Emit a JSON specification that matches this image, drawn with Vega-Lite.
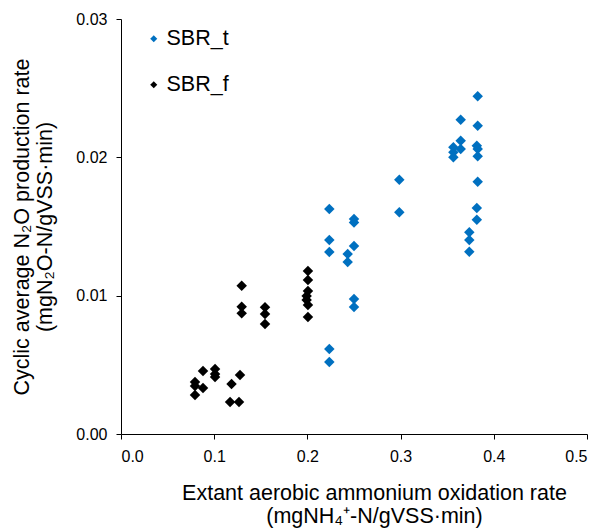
{
  "$schema": "https://vega.github.io/schema/vega-lite/v6.json",
  "width": 466,
  "height": 415,
  "autosize": "none",
  "padding": {"left": 121, "top": 19, "right": 13, "bottom": 94},
  "background": "white",
  "config": {
    "view": {"stroke": null},
    "font": "Liberation Sans",
    "axis": {"grid": false, "domainColor": "#000", "tickColor": "#000", "labelColor": "#000", "titleColor": "#000", "labelFontSize": 16, "titleFontSize": 21.5, "titleFontWeight": "normal", "tickSize": 5, "labelFont": "Liberation Sans", "titleFont": "Liberation Sans"}
  },
  "data": {
    "values": [
      {"rate": 0.0794, "n2o": 0.00376, "reactor": "SBR_f"},
      {"rate": 0.0794, "n2o": 0.00347, "reactor": "SBR_f"},
      {"rate": 0.0794, "n2o": 0.00282, "reactor": "SBR_f"},
      {"rate": 0.088, "n2o": 0.00455, "reactor": "SBR_f"},
      {"rate": 0.088, "n2o": 0.00333, "reactor": "SBR_f"},
      {"rate": 0.1009, "n2o": 0.0047, "reactor": "SBR_f"},
      {"rate": 0.1009, "n2o": 0.00434, "reactor": "SBR_f"},
      {"rate": 0.1009, "n2o": 0.00412, "reactor": "SBR_f"},
      {"rate": 0.1186, "n2o": 0.00361, "reactor": "SBR_f"},
      {"rate": 0.1277, "n2o": 0.00427, "reactor": "SBR_f"},
      {"rate": 0.117, "n2o": 0.00231, "reactor": "SBR_f"},
      {"rate": 0.1266, "n2o": 0.00231, "reactor": "SBR_f"},
      {"rate": 0.1295, "n2o": 0.01072, "reactor": "SBR_f"},
      {"rate": 0.1295, "n2o": 0.0092, "reactor": "SBR_f"},
      {"rate": 0.1295, "n2o": 0.00872, "reactor": "SBR_f"},
      {"rate": 0.1545, "n2o": 0.00916, "reactor": "SBR_f"},
      {"rate": 0.1545, "n2o": 0.00868, "reactor": "SBR_f"},
      {"rate": 0.1545, "n2o": 0.00795, "reactor": "SBR_f"},
      {"rate": 0.2006, "n2o": 0.01178, "reactor": "SBR_f"},
      {"rate": 0.2006, "n2o": 0.01113, "reactor": "SBR_f"},
      {"rate": 0.2006, "n2o": 0.01034, "reactor": "SBR_f"},
      {"rate": 0.1992, "n2o": 0.00998, "reactor": "SBR_f"},
      {"rate": 0.1992, "n2o": 0.00969, "reactor": "SBR_f"},
      {"rate": 0.2006, "n2o": 0.00933, "reactor": "SBR_f"},
      {"rate": 0.2006, "n2o": 0.00846, "reactor": "SBR_f"},
      {"rate": 0.2235, "n2o": 0.01627, "reactor": "SBR_t"},
      {"rate": 0.2235, "n2o": 0.01402, "reactor": "SBR_t"},
      {"rate": 0.2235, "n2o": 0.01316, "reactor": "SBR_t"},
      {"rate": 0.2235, "n2o": 0.00614, "reactor": "SBR_t"},
      {"rate": 0.2235, "n2o": 0.0052, "reactor": "SBR_t"},
      {"rate": 0.2432, "n2o": 0.01301, "reactor": "SBR_t"},
      {"rate": 0.2432, "n2o": 0.01243, "reactor": "SBR_t"},
      {"rate": 0.25, "n2o": 0.01554, "reactor": "SBR_t"},
      {"rate": 0.25, "n2o": 0.01529, "reactor": "SBR_t"},
      {"rate": 0.25, "n2o": 0.01359, "reactor": "SBR_t"},
      {"rate": 0.25, "n2o": 0.00976, "reactor": "SBR_t"},
      {"rate": 0.25, "n2o": 0.00918, "reactor": "SBR_t"},
      {"rate": 0.2986, "n2o": 0.01838, "reactor": "SBR_t"},
      {"rate": 0.2986, "n2o": 0.01603, "reactor": "SBR_t"},
      {"rate": 0.3827, "n2o": 0.02441, "reactor": "SBR_t"},
      {"rate": 0.3645, "n2o": 0.02272, "reactor": "SBR_t"},
      {"rate": 0.3827, "n2o": 0.02229, "reactor": "SBR_t"},
      {"rate": 0.3645, "n2o": 0.0212, "reactor": "SBR_t"},
      {"rate": 0.3566, "n2o": 0.02073, "reactor": "SBR_t"},
      {"rate": 0.3645, "n2o": 0.0206, "reactor": "SBR_t"},
      {"rate": 0.3818, "n2o": 0.02084, "reactor": "SBR_t"},
      {"rate": 0.3827, "n2o": 0.0206, "reactor": "SBR_t"},
      {"rate": 0.3566, "n2o": 0.02036, "reactor": "SBR_t"},
      {"rate": 0.3566, "n2o": 0.02, "reactor": "SBR_t"},
      {"rate": 0.3827, "n2o": 0.02008, "reactor": "SBR_t"},
      {"rate": 0.3827, "n2o": 0.01824, "reactor": "SBR_t"},
      {"rate": 0.3818, "n2o": 0.01634, "reactor": "SBR_t"},
      {"rate": 0.3818, "n2o": 0.01549, "reactor": "SBR_t"},
      {"rate": 0.3737, "n2o": 0.01458, "reactor": "SBR_t"},
      {"rate": 0.3737, "n2o": 0.01403, "reactor": "SBR_t"},
      {"rate": 0.3737, "n2o": 0.01318, "reactor": "SBR_t"}
    ]
  },
  "mark": {"type": "point", "shape": "diamond", "filled": true, "opacity": 1, "size": 110},
  "encoding": {
    "x": {
      "field": "rate", "type": "quantitative",
      "scale": {"domain": [0, 0.5], "nice": false, "zero": false},
      "axis": {"values": [0, 0.1, 0.2, 0.3, 0.4, 0.5], "format": ".1f", "labelPadding": 9, "title": ["Extant aerobic ammonium oxidation rate", "(mgNH₄⁺-N/gVSS·min)"], "titleLineHeight": 23, "titlePadding": 18, "titleX": 253}
    },
    "y": {
      "field": "n2o", "type": "quantitative",
      "scale": {"domain": [0, 0.03], "nice": false, "zero": false},
      "axis": {"values": [0, 0.01, 0.02, 0.03], "format": ".2f", "labelPadding": 9, "title": ["Cyclic average N₂O production rate", "(mgN₂O-N/gVSS·min)"], "titleLineHeight": 23, "titlePadding": 19}
    },
    "color": {
      "field": "reactor", "type": "nominal",
      "scale": {"domain": ["SBR_t", "SBR_f"], "range": ["#0070C0", "#000000"]},
      "legend": {"title": null, "orient": "none", "legendX": 22, "legendY": 9, "symbolType": "diamond", "symbolSize": 50, "symbolOpacity": 1, "labelFontSize": 21.5, "labelFont": "Liberation Sans", "labelColor": "#000", "rowPadding": 23, "labelOffset": 2}
    }
  }
}
